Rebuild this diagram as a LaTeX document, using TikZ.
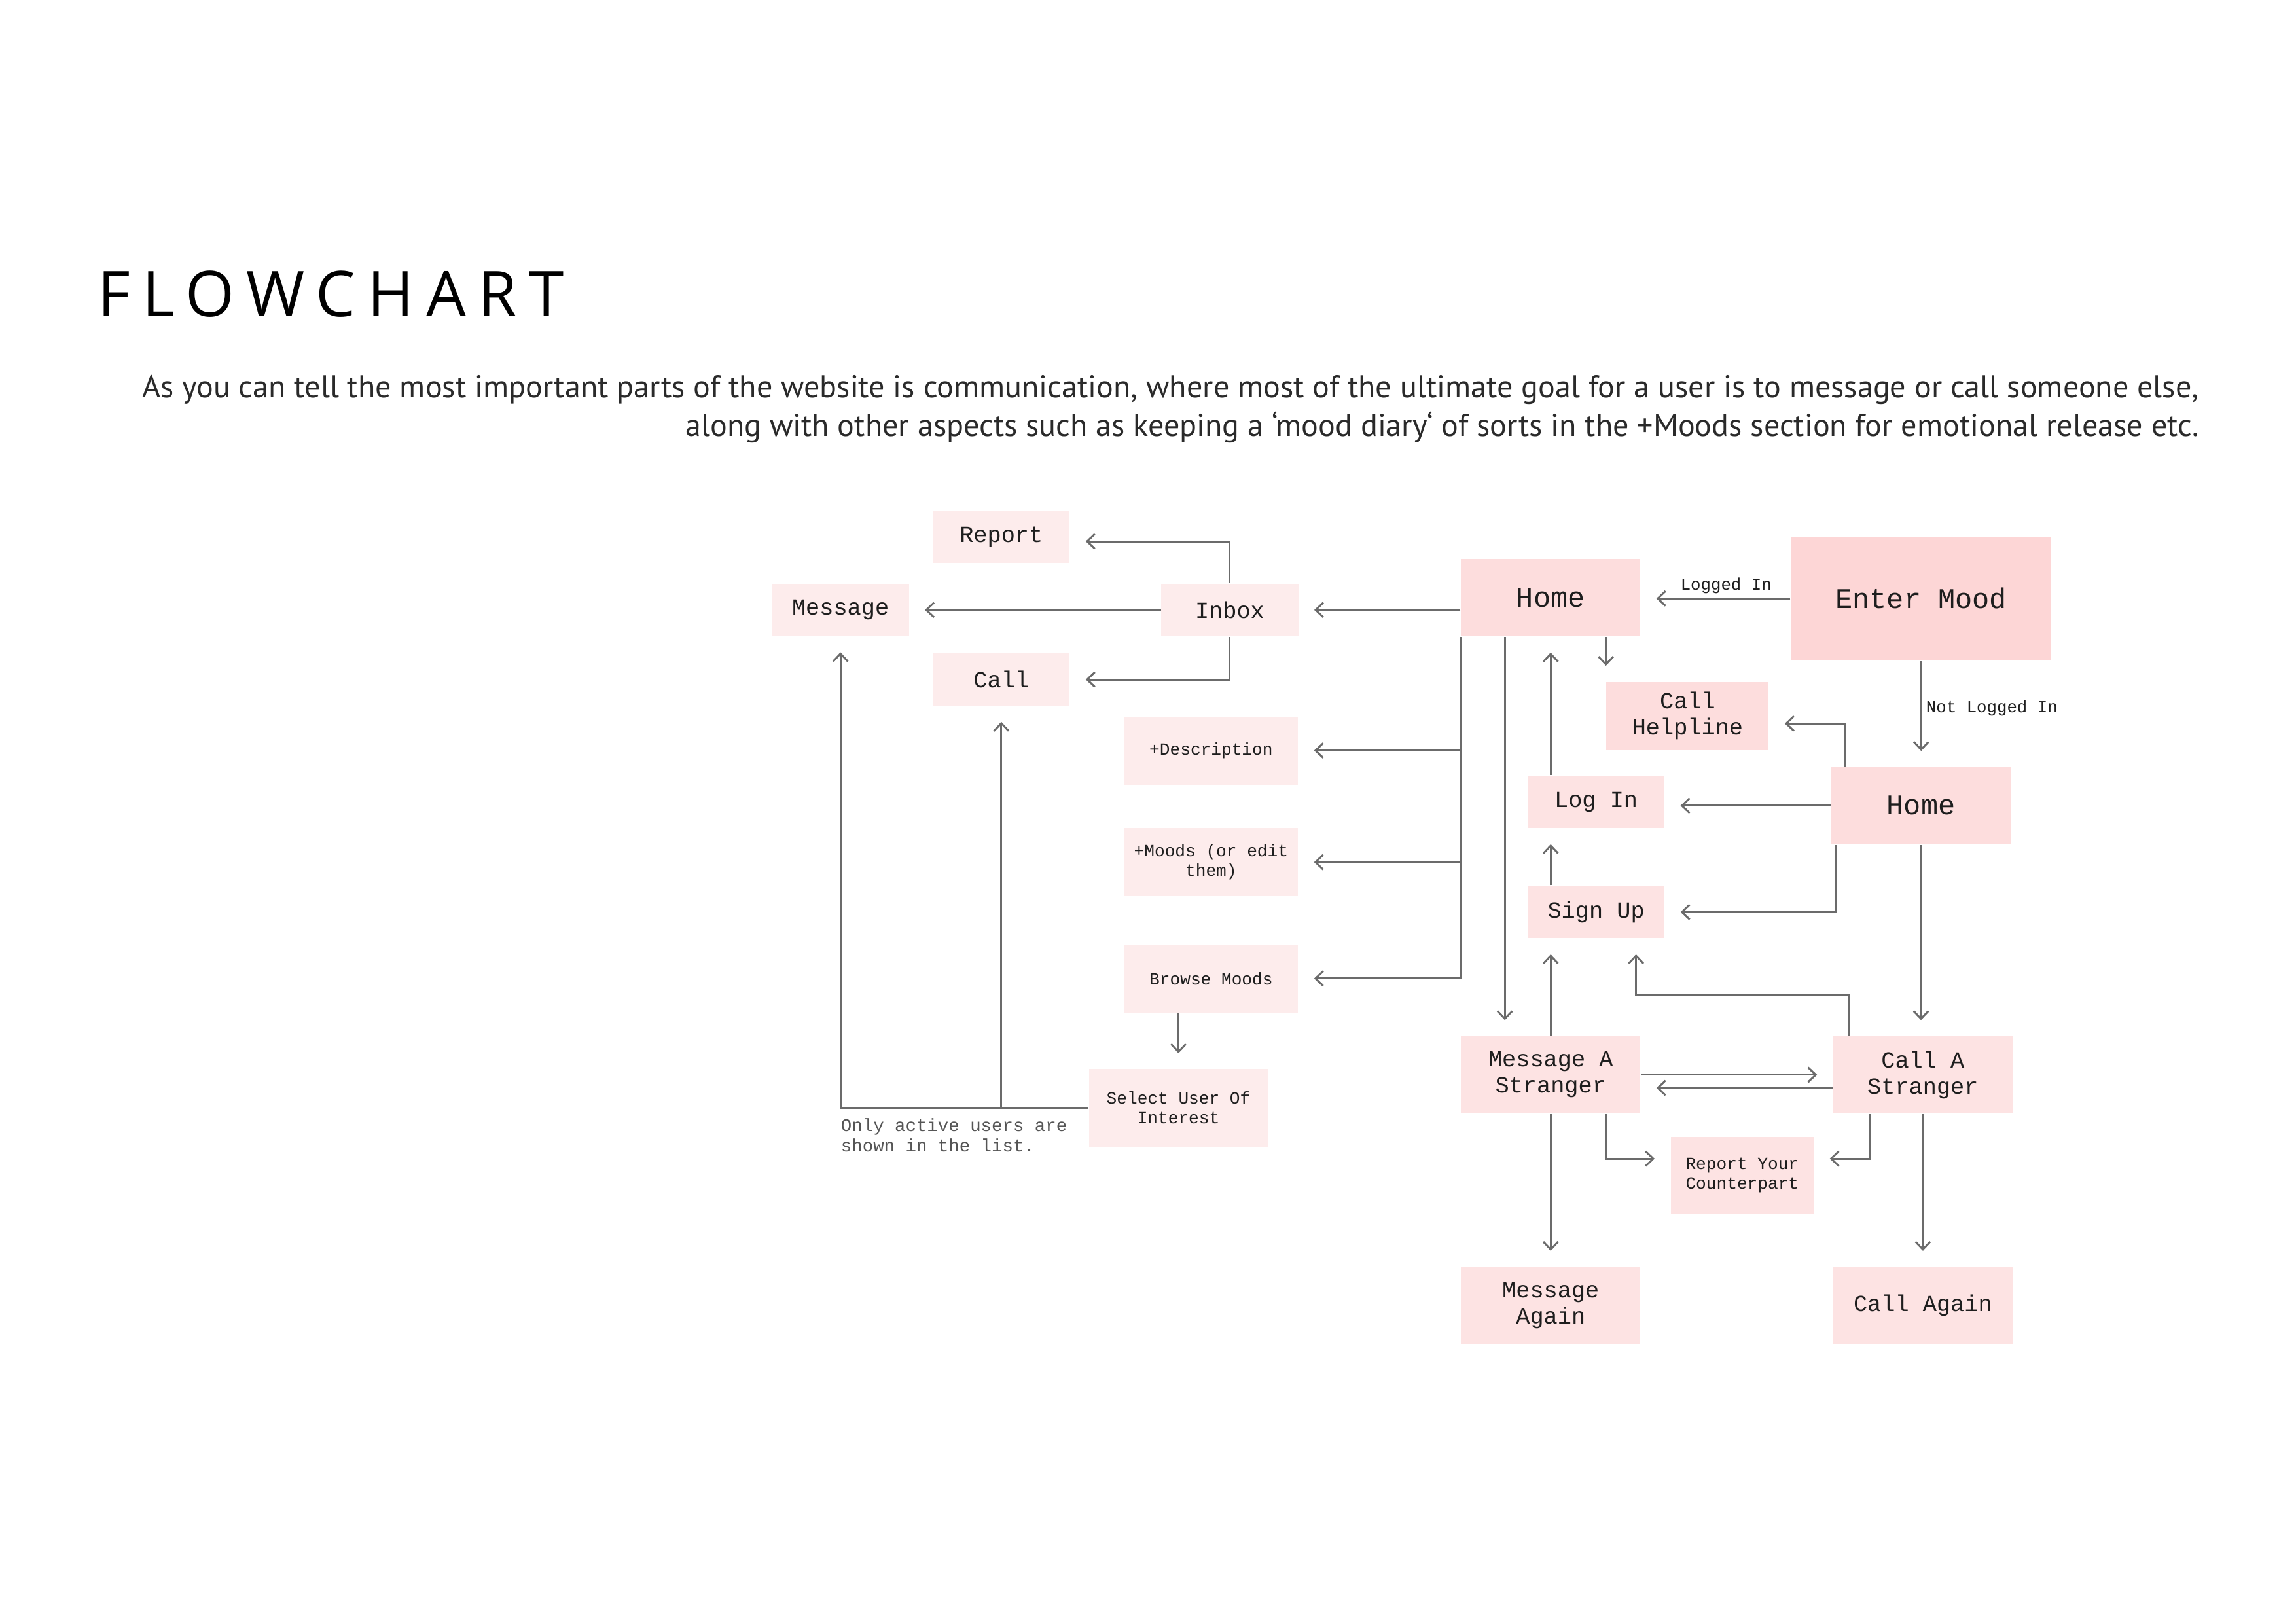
\documentclass[tikz,border=0pt]{standalone}
\usepackage{fontspec}
\usepackage{tikz}
\usetikzlibrary{arrows.meta, positioning}

\newfontfamily\boxfont{Liberation Mono}
\newfontfamily\titlefont[LetterSpace=19]{Open Sans}
\newfontfamily\introfont{PT Sans}

\definecolor{moodpink}{HTML}{FDD6D6}
\definecolor{homepink}{HTML}{FDDDDD}
\definecolor{steppink}{HTML}{FDE3E3}
\definecolor{sidepink}{HTML}{FDECEC}
\definecolor{linegray}{HTML}{6B6B6B}
\definecolor{inkgray}{HTML}{1E1E1E}
\definecolor{bodygray}{HTML}{2A2A2A}
\definecolor{notegray}{HTML}{555555}

\begin{document}
\begin{tikzpicture}[
  bigbox/.style={rectangle, fill=homepink, minimum width=2.32cm, minimum height=1cm, inner sep=0pt, align=center, text=inkgray, font=\boxfont\fontsize{10.5}{12}\selectfont},
  box/.style={rectangle, fill=steppink, minimum width=2.32cm, minimum height=1cm, inner sep=0pt, align=center, text=inkgray, font=\boxfont\fontsize{8.5}{9.6}\selectfont},
  smallbox/.style={box, minimum width=1.77cm, minimum height=0.68cm},
  sidebox/.style={rectangle, fill=sidepink, minimum width=2.25cm, minimum height=0.88cm, inner sep=0pt, align=center, text=inkgray, font=\boxfont\fontsize{6.3}{7.2}\selectfont},
  arrow/.style={-{Straight Barb[length=1mm, width=1.9mm]}, line width=0.7pt, draw=linegray, shorten >=0.2cm},
  note/.style={font=\boxfont\fontsize{6.2}{7.2}\selectfont, text=inkgray, inner sep=1.5pt},
  node distance=0.55cm and 0.6cm
]
\useasboundingbox (0,0) rectangle (29.7,-21);

% Heading
\node[anchor=base west, inner sep=0pt, font=\titlefont\fontsize{23.2}{28}\selectfont] (title) at (1.26,-4.097) {FLOWCHART};
\node[anchor=base east, inner sep=0pt, align=right, text=bodygray, font=\introfont\fontsize{11.6}{14.2}\selectfont] (intro) at (28.45,-5.644)
  {As you can tell the most important parts of the website is communication, where most of the ultimate goal for a user is to message or call someone else,\\
   along with other aspects such as keeping a ‘mood diary‘ of sorts in the +Moods section for emotional release etc.};

% Entry
\node[bigbox, fill=moodpink, minimum width=3.37cm, minimum height=1.6cm] (mood) at (24.851,-7.741) {Enter Mood};
\node[bigbox] (home) at (20.059,-7.732) {Home};
\node[bigbox] (guest) at (24.849,-10.420) {Home};
\node[box, fill=homepink, minimum width=2.1cm, minimum height=0.88cm] (helpline) at (21.830,-9.258) {Call\\Helpline};
\node[smallbox] (login) at (20.646,-10.372) {Log In};
\node[smallbox, below=0.73cm of login] (signup) {Sign Up};

% Inbox branch
\node[smallbox, fill=sidepink] (inbox) at (15.908,-7.889) {Inbox};
\node[smallbox, fill=sidepink] (report) at (12.952,-6.942) {Report};
\node[smallbox, fill=sidepink] (message) at (10.872,-7.889) {Message};
\node[smallbox, fill=sidepink] (call) at (12.952,-8.789) {Call};

% Mood branch
\node[sidebox] (desc) at (15.666,-9.707) {+Description};
\node[sidebox, below=0.55cm of desc] (moods) {+Moods (or edit\\them)};
\node[sidebox, below=0.61cm of moods] (browse) {Browse Moods};
\node[sidebox, minimum width=2.32cm, minimum height=1cm] (select) at (15.244,-14.329) {Select User Of\\Interest};
\node[note, anchor=north west, align=left, text=notegray, inner sep=0pt, font=\boxfont\fontsize{6.6}{7.4}\selectfont] (hint) at ([yshift=-0.13cm]message.south |- select.west) {Only active users are\\shown in the list.};

% Stranger branch
\node[box] (msgstranger) at (20.059,-13.901) {Message A\\Stranger};
\node[box, right=2.48cm of msgstranger] (callstranger) {Call A\\Stranger};
\node[box, minimum width=1.85cm, font=\boxfont\fontsize{6.3}{7.2}\selectfont] (reportback) at (22.536,-15.204) {Report Your\\Counterpart};
\node[box, below=1.97cm of msgstranger] (msgagain) {Message\\Again};
\node[box, below=1.97cm of callstranger] (callagain) {Call Again};

% Arrows
\draw[arrow] (mood.west) -- node[note, above, pos=0.43] {Logged In} (mood.west -| home.east);
\draw[arrow] (mood.south) -- node[note, right, pos=0.45] {Not Logged In} (mood.south |- guest.north);
\draw[arrow] (inbox.east -| home.west) -- (inbox.east);
\draw[arrow] (inbox.north) |- ([yshift=-0.06cm]report.east);
\draw[arrow] (inbox.west) -- (message.east);
\draw[arrow] (inbox.south) |- (call.east);
\draw[arrow] (home.south west) |- (desc.east);
\draw[arrow] (home.south west) |- (moods.east);
\draw[arrow] (home.south west) |- (browse.east);
\draw[arrow] ([xshift=0.574cm]home.south west) -- ([xshift=0.574cm]msgstranger.north west);
\draw[arrow] (helpline.north west |- home.south) -- (helpline.north west);
\draw[arrow] (login.north -| home.south) -- (home.south);
\draw[arrow] ([xshift=0.18cm]guest.north west) |- ([yshift=-0.1cm]helpline.east);
\draw[arrow] (guest.west) -- (guest.west -| login.east);
\draw[arrow] ([xshift=0.07cm]guest.south west) |- (signup.east);
\draw[arrow] (signup.north -| home.south) -- (login.south -| home.south);
\draw[arrow] (guest.south) -- (guest.south |- callstranger.north);
\draw[arrow] (msgstranger.north) -- (msgstranger.north |- signup.south);
\draw[arrow] ([xshift=0.216cm]callstranger.north west) -- ++(0,0.532) -| ([xshift=-0.375cm]signup.south east);
\draw[arrow] (msgstranger.east) -- (callstranger.west);
\draw[arrow] ([yshift=-0.17cm]callstranger.west) -- ([yshift=-0.17cm]msgstranger.east);
\draw[arrow] ([xshift=-0.456cm]msgstranger.south east) |- ([yshift=0.218cm]reportback.west);
\draw[arrow] ([xshift=0.49cm]callstranger.south west) |- ([yshift=0.218cm]reportback.east);
\draw[arrow] (msgstranger.south) -- (msgagain.north);
\draw[arrow] (callstranger.south) -- (callagain.north);
\draw[arrow] (browse.south -| select.north) -- (select.north);
\draw[arrow] (select.west) -| (message.south);
\draw[arrow] (select.west -| call.south) -- (call.south);
\end{tikzpicture}
\end{document}
